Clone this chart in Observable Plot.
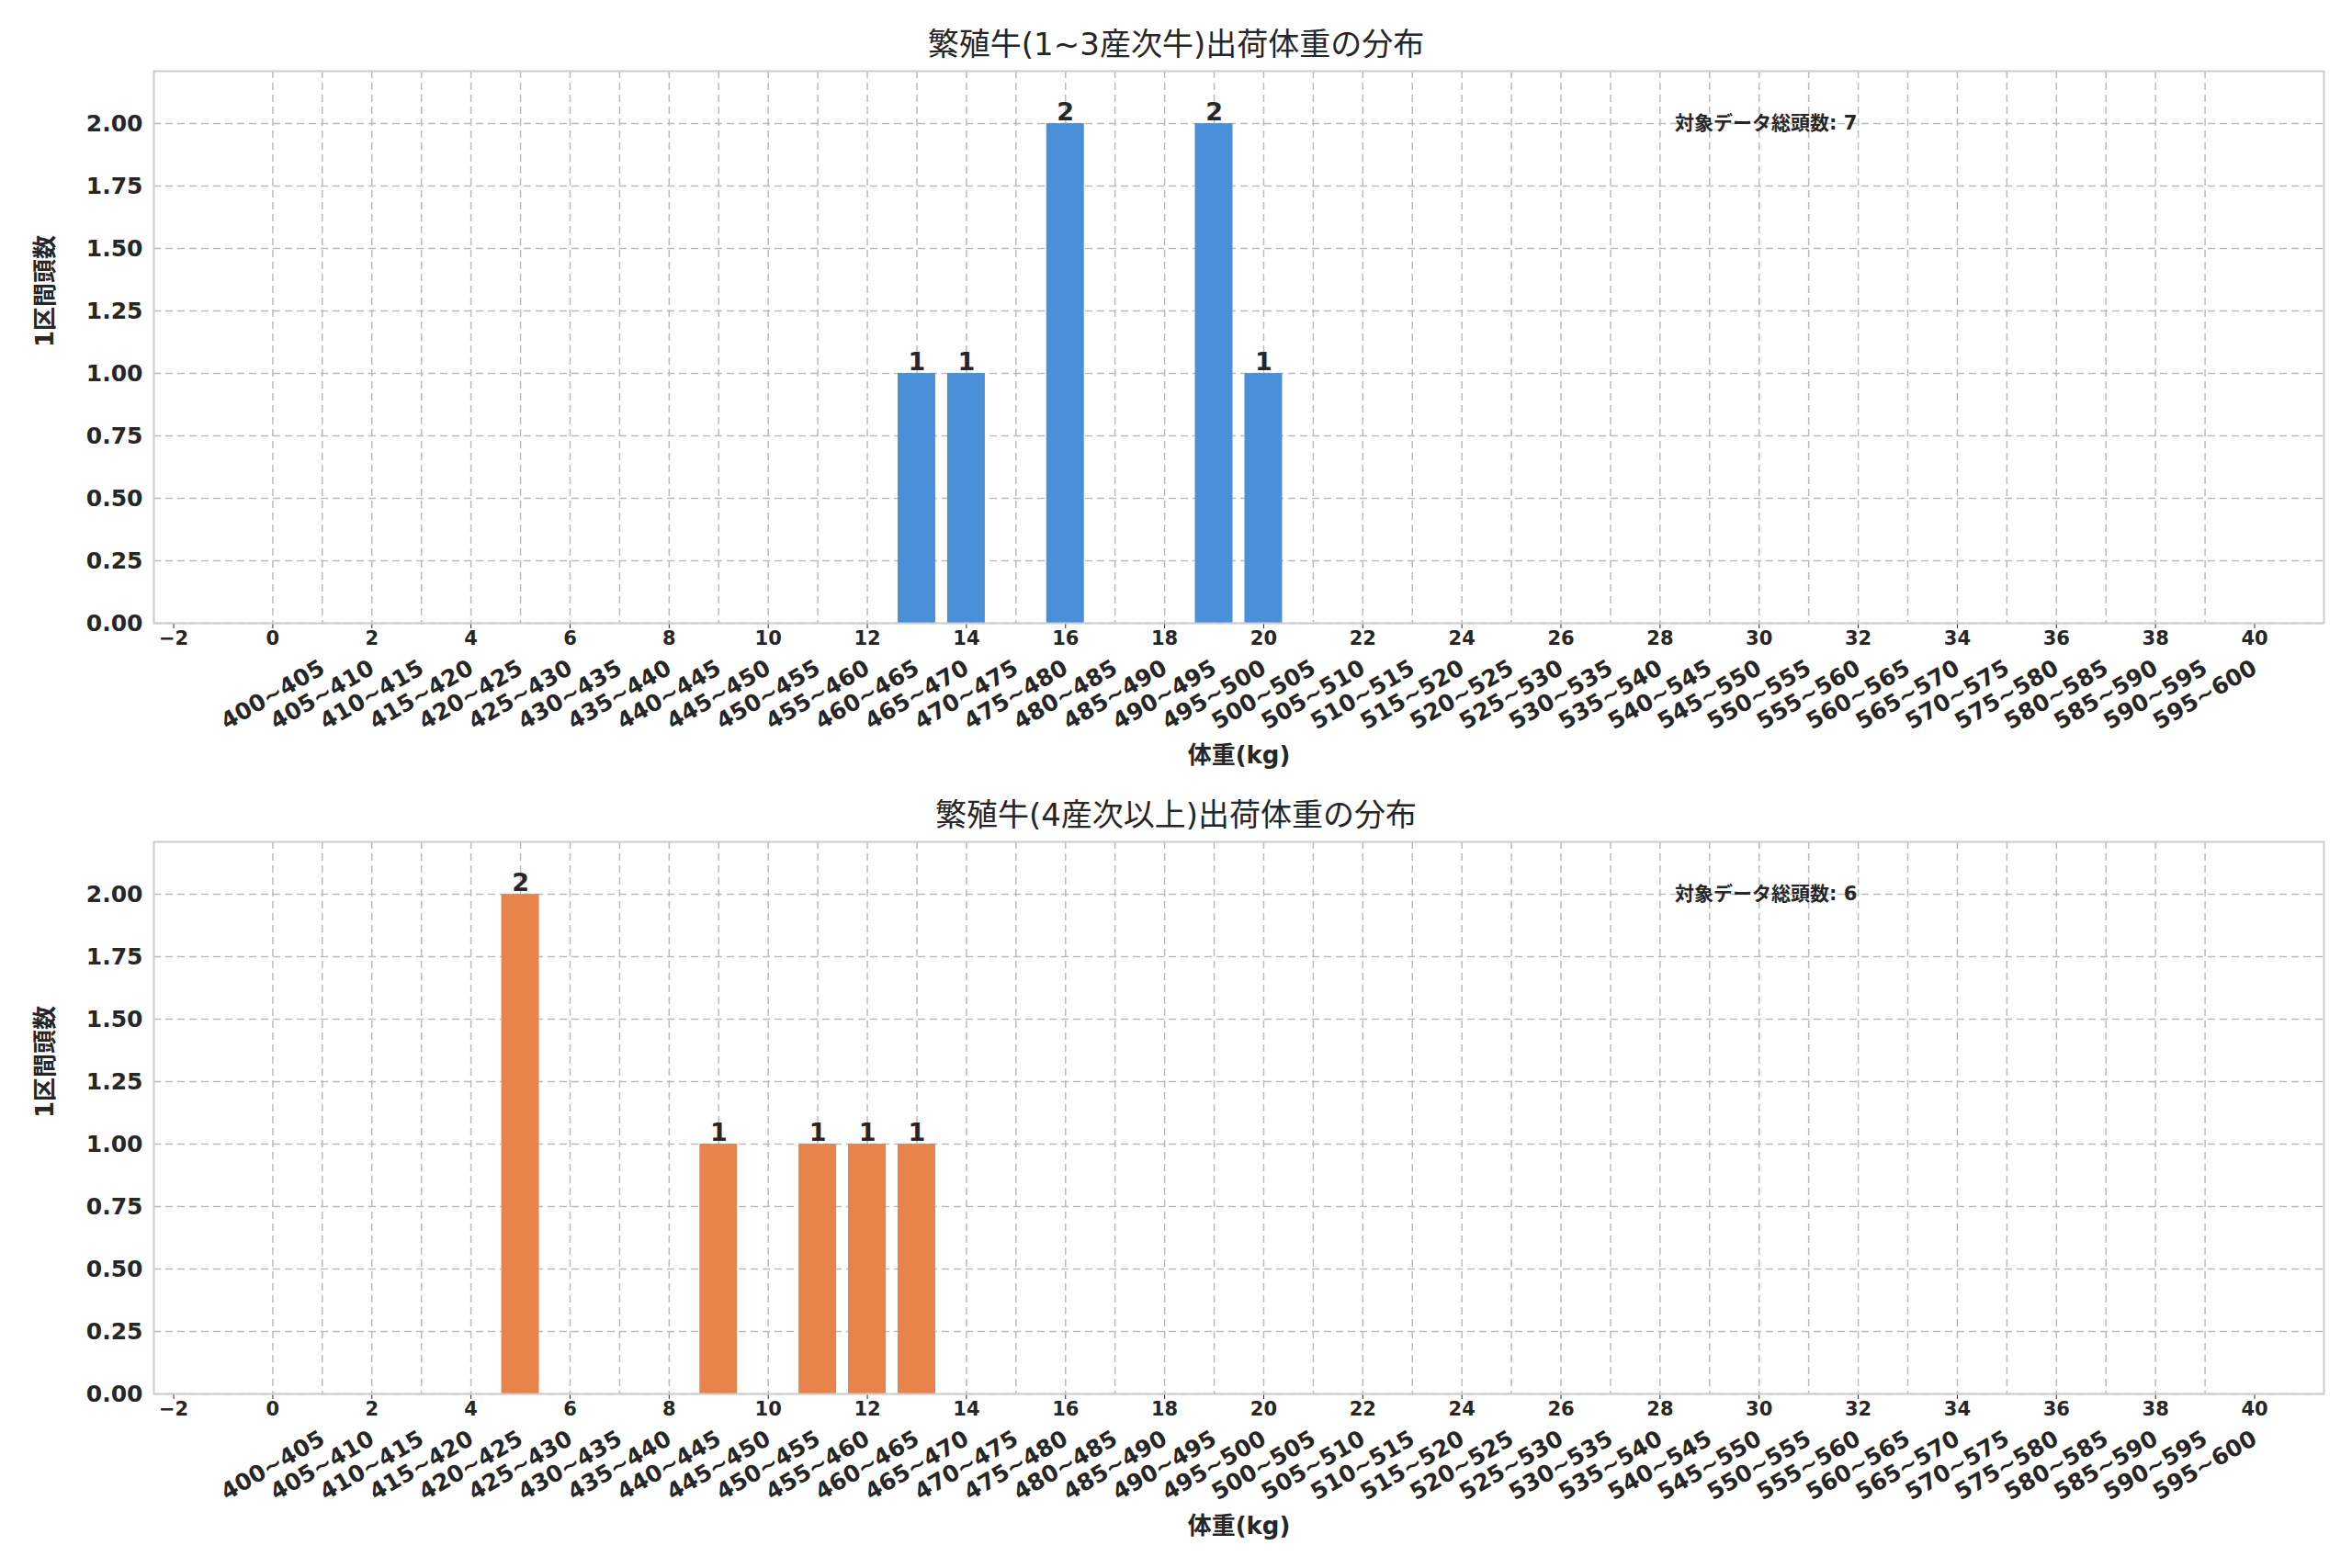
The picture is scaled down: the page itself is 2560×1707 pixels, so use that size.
<!DOCTYPE html>
<html><head><meta charset="utf-8">
<script src="https://cdn.jsdelivr.net/npm/d3@7"></script>
<script src="https://cdn.jsdelivr.net/npm/@observablehq/plot@0.6"></script>
<style>
body{margin:0;background:#fff;font-family:"DejaVu Sans","Noto Sans CJK JP",sans-serif;color:#262626}
.t{text-align:center;font-size:34px;height:36px;line-height:36px;color:#262626}
</style></head><body><div id="root" style="padding-top:30px"></div>
<script>
const bins = [];
for (let s = 400; s < 600; s += 5) bins.push(`${s}~${s+5}`);
const title1 = "繁殖牛(1~3産次牛)出荷体重の分布";
const title2 = "繁殖牛(4産次以上)出荷体重の分布";
const xLabel = "体重(kg)";
const yLabel = "1区間頭数";
const noteLabel = "対象データ総頭数";
const bins1 = ["465~470","470~475","480~485","495~500","500~505"];
const counts1 = [1,1,2,2,1];
const bins2 = ["425~430","445~450","455~460","460~465","465~470"];
const counts2 = [2,1,1,1,1];
const total1 = 7, total2 = 6;
const yTicks = [0,0.25,0.5,0.75,1,1.25,1.5,1.75,2];

function panel(title, bs, cs, total, color, mt, mb){
  const data = bs.map((b,k)=>({i: bins.indexOf(b), c: cs[k]}));
  const d = document.createElement("div");
  d.className="t"; d.textContent=title;
  document.getElementById("root").appendChild(d);
  const idx = d3.range(bins.length);
  const p = Plot.plot({
    width:2560, height:mt+601+mb, marginTop:mt, marginLeft:167, marginRight:31, marginBottom:mb,
    style:{fontFamily:"DejaVu Sans, Noto Sans CJK JP, sans-serif", fontSize:"21px", fontWeight:"bold", color:"#262626", background:"#fff", overflow:"visible"},
    x:{domain:[-2.4,41.4], label:null},
    y:{domain:[0,2.21], label:null},
    marks:[
      Plot.gridX(idx,{stroke:"#bbb",strokeOpacity:1,strokeDasharray:"8,5",strokeWidth:1.5}),
      Plot.gridY(yTicks,{stroke:"#bbb",strokeOpacity:1,strokeDasharray:"8,5",strokeWidth:1.5}),
      Plot.rectY(data,{x1:d=>d.i-0.38,x2:d=>d.i+0.38,y1:0,y2:"c",fill:color}),
      Plot.text(data,{x:"i",y:"c",text:d=>String(d.c),dy:-12,fontSize:27,fontWeight:"bold",fill:"#262626"}),
      Plot.text([total],{x:28.3,y:2.0,text:d=>`${noteLabel}: ${d}`,textAnchor:"start",fontSize:21,fontWeight:"bold",fill:"#262626"}),
      Plot.frame({stroke:"#ccc",strokeWidth:2}),
      Plot.text(idx,{x:d=>d,y:0,text:i=>bins[i],rotate:-30,textAnchor:"middle",dy:78,fontSize:25,fontWeight:"bold",fill:"#262626"}),
      Plot.axisY({ticks:yTicks,tickFormat:d3.format(".2f"),tickSize:0,tickPadding:12,fontSize:25,fontWeight:"bold",label:null}),
      Plot.text([xLabel],{x:19.5,y:0,text:d=>d,fontSize:26,fontWeight:"bold",fill:"#262626",dy:144}),
      Plot.text([yLabel],{frameAnchor:"left",rotate:-90,text:d=>d,fontSize:26,fontWeight:"bold",fill:"#262626",dx:-118})
    ]
  });
  p.style.display="block";
  document.getElementById("root").appendChild(p);
}
panel(title1,bins1,counts1,total1,"#4a90d9",11,191);
panel(title2,bins2,counts2,total2,"#e8844a",11,180);
</script></body></html>
